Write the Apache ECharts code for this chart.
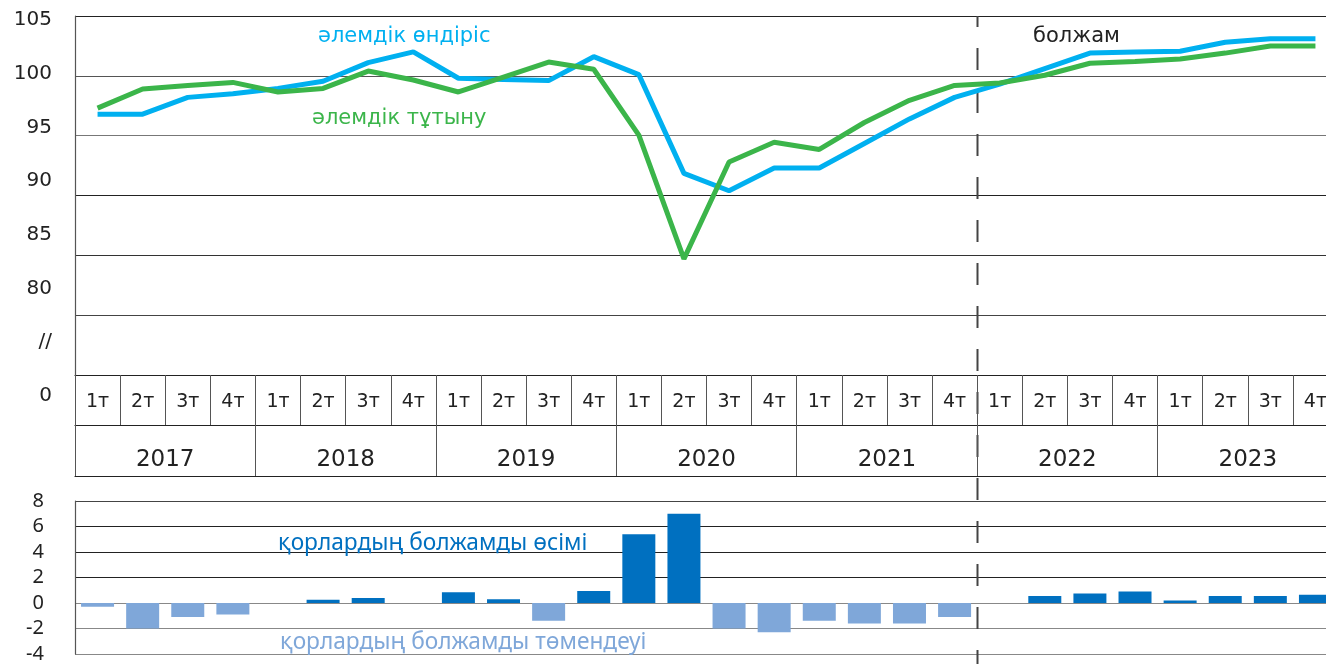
<!DOCTYPE html>
<html>
<head>
<meta charset="utf-8">
<script src="https://cdn.jsdelivr.net/npm/echarts@6/dist/echarts.min.js"></script>
<style>
  html, body { margin: 0; padding: 0; background: #fff; overflow: hidden; }
  /* the plot runs past the right edge of the window, like the original */
  #chart { width: 1340px; height: 664px; }
</style>
</head>
<body>
<div id="chart"></div>
<script>
const quarterLabels = [
  '1т', '2т', '3т', '4т', '1т', '2т', '3т', '4т', '1т', '2т', '3т', '4т', '1т', '2т',
  '3т', '4т', '1т', '2т', '3т', '4т', '1т', '2т', '3т', '4т', '1т', '2т', '3т', '4т'
];
const years = ['2017', '2018', '2019', '2020', '2021', '2022', '2023'];
const yTickLabels = ['0', '//', '80', '85', '90', '95', '100', '105'];

// әлемдік өндіріс
const production = [
  96.8, 96.8, 98.2, 98.5, 98.95, 99.55, 101.1, 102.0, 99.8, 99.7, 99.6, 101.6, 100.1, 91.85,
  90.4, 92.3, 92.3, 94.35, 96.4, 98.2, 99.3, 100.6, 101.9, 102.0, 102.05, 102.8, 103.1, 103.1
];
// әлемдік тұтыну
const consumption = [
  97.3, 98.9, 99.2, 99.45, 98.65, 98.95, 100.4, 99.65, 98.65, 99.9, 101.15, 100.55, 95.05, 84.7,
  92.8, 94.45, 93.85, 96.1, 97.95, 99.2, 99.4, 100.05, 101.05, 101.2, 101.4, 101.9, 102.5, 102.5
];
// қорлардың болжамды өзгерісі
const stockChange = [
  -0.3, -2.0, -1.1, -0.9, 0, 0.25, 0.4, 0, 0.85, 0.3, -1.4, 0.95, 5.4, 7.0,
  -2.0, -2.3, -1.4, -1.6, -1.6, -1.1, 0, 0.55, 0.75, 0.9, 0.2, 0.55, 0.55, 0.65
];

const font = 'DejaVu Sans';
const chart = echarts.init(document.getElementById('chart'));

chart.setOption({
  animation: false,
  grid: [
    {left: 75, top: 16, width: 1263, height: 359},
    {left: 75, top: 20, width: 1263, height: 376},
    {left: 75, top: 501, width: 1263, height: 157}
  ],
  xAxis: [
    {
      gridIndex: 0, type: 'category', data: quarterLabels, position: 'bottom',
      axisLine: {lineStyle: {color: '#222', width: 1.2}},
      axisTick: {show: true, interval: 0, length: 50, lineStyle: {color: '#555'}},
      axisLabel: {interval: 0, margin: 18, fontSize: 19, color: '#222', fontFamily: font}
    },
    {
      gridIndex: 0, type: 'category', data: years, position: 'bottom', offset: 50,
      axisLine: {lineStyle: {color: '#222', width: 1.2}},
      axisTick: {show: true, interval: 0, length: 51, lineStyle: {color: '#555'}},
      axisLabel: {interval: 0, margin: 24, fontSize: 23, color: '#222', fontFamily: font}
    },
    {
      gridIndex: 0, type: 'category', data: years, position: 'bottom', offset: 101,
      axisLine: {lineStyle: {color: '#222', width: 1.2}},
      axisTick: {show: false}, axisLabel: {show: false}
    },
    {gridIndex: 1, type: 'category', data: quarterLabels, show: false},
    {
      gridIndex: 2, type: 'category', data: quarterLabels,
      axisLine: {show: false}, axisTick: {show: false}, axisLabel: {show: false}
    }
  ],
  yAxis: [
    {
      gridIndex: 0, type: 'value', min: 75, max: 105, interval: 5,
      axisLine: {show: true, lineStyle: {color: '#555', width: 1.2}},
      axisTick: {show: false}, axisLabel: {show: false},
      splitLine: {lineStyle: {color: ['#222', '#444', '#333', '#222', '#777', '#555', '#222'], width: 1.2}}
    },
    {
      gridIndex: 1, type: 'category', data: yTickLabels, boundaryGap: false,
      axisLine: {show: false}, axisTick: {show: false}, splitLine: {show: false},
      axisLabel: {margin: 23, fontSize: 20, color: '#222', fontFamily: font}
    },
    {
      gridIndex: 2, type: 'value', min: -4, max: 8, interval: 2,
      axisLine: {show: true, lineStyle: {color: '#555', width: 1.2}},
      axisTick: {show: false},
      axisLabel: {margin: 31, fontSize: 20, color: '#222', fontFamily: 'Noto Sans'},
      splitLine: {lineStyle: {color: ['#888', '#888', '#888', '#222', '#222', '#222', '#444'], width: 1.2}}
    }
  ],
  series: [
    {
      name: 'әлемдік өндіріс', type: 'line', xAxisIndex: 0, yAxisIndex: 0,
      data: production, symbol: 'none', color: '#00B0F0',
      lineStyle: {width: 5, color: '#00B0F0'}
    },
    {
      name: 'әлемдік тұтыну', type: 'line', xAxisIndex: 0, yAxisIndex: 0,
      data: consumption, symbol: 'none', color: '#3BB54A',
      lineStyle: {width: 5, color: '#3BB54A'}
    },
    {
      name: 'қорлар', type: 'bar', xAxisIndex: 4, yAxisIndex: 2,
      data: stockChange, barWidth: 33,
      itemStyle: {color: p => (p.value >= 0 ? '#0070C0' : '#7FA7D9')}
    }
  ]
});

// forecast divider between 2021 4т and 2022 1т
const x19 = chart.convertToPixel({xAxisIndex: 0}, 19);
const x20 = chart.convertToPixel({xAxisIndex: 0}, 20);
const divX = Math.round((x19 + x20) / 2) + 0.5;
const topY = chart.convertToPixel({yAxisIndex: 0}, 105);

chart.setOption({
  graphic: [
    {
      type: 'line', silent: true,
      shape: {x1: divX, y1: topY, x2: divX, y2: 664},
      style: {stroke: '#444', lineWidth: 2, lineDash: [22, 21], lineDashOffset: 11}
    },
    {type: 'text', left: 318, top: 26, style: {text: 'әлемдік өндіріс', fill: '#00B0F0', font: '21px "DejaVu Sans"'}},
    {type: 'text', left: 312, top: 108, style: {text: 'әлемдік тұтыну', fill: '#3BB54A', font: '21px "DejaVu Sans"'}},
    {type: 'text', left: 1033, top: 26, style: {text: 'болжам', fill: '#222', font: '21px "DejaVu Sans"'}},
    {type: 'text', left: 278, top: 532, style: {text: 'қорлардың болжамды өсімі', fill: '#0070C0', font: '22.7px "Noto Sans"'}},
    {type: 'text', left: 280, top: 631, style: {text: 'қорлардың болжамды төмендеуі', fill: '#7FA7D9', font: '22.7px "Noto Sans"'}}
  ]
});
</script>
</body>
</html>
